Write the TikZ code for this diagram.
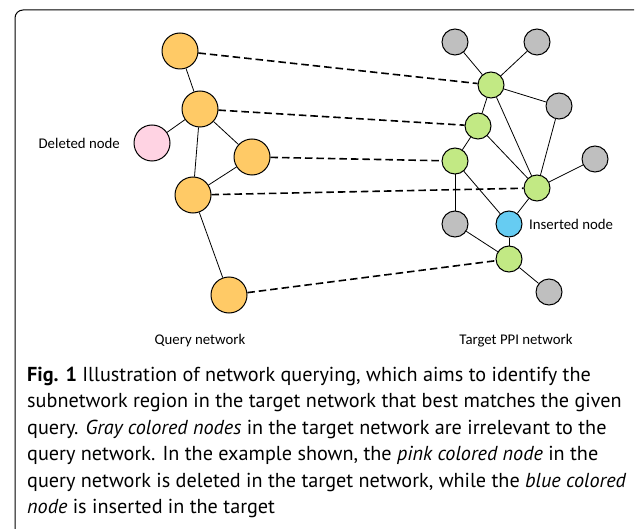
\documentclass[tikz,border=0pt]{standalone}
\usepackage{fontspec}
\setmainfont{PT Sans}
\newfontfamily\labelfont{Carlito}
\usetikzlibrary{calc}

\definecolor{qorange}{HTML}{FFCA66}
\definecolor{qpink}{HTML}{FFD3E3}
\definecolor{tgreen}{HTML}{C2E984}
\definecolor{tgray}{HTML}{BFBFBF}
\definecolor{tblue}{HTML}{66CCF2}

\begin{document}
\begin{tikzpicture}[x=1pt,y=-1pt,
  every node/.style={inner sep=0pt},
  qnode/.style={draw,circle,fill=qorange,minimum size=36pt,line width=1pt},
  tnode/.style={draw,circle,fill=tgreen,minimum size=26pt,line width=1pt},
  xnode/.style={draw,circle,fill=tgray,minimum size=26pt,line width=1pt},
  link/.style={line width=0.8pt},
  match/.style={line width=1.6pt,dash pattern=on 7.5pt off 4pt},
  lbl/.style={font=\labelfont\fontsize{14.8}{16}\selectfont}]
\useasboundingbox (0,0) rectangle (636,529);
\draw[line width=1pt,rounded corners=8pt] (15,529) -- (15,10) -- (634,10);

% query network
\node[qnode] (Q-1) at (180,51) {};
\node[qnode] (Q-2) at (200,109) {};
\node[qnode] (Q-3) at (252,157) {};
\node[qnode] (Q-4) at (193,195) {};
\node[qnode] (Q-5) at (229,295) {};
\node[qnode,fill=qpink] (del) at (152,143) {};

% target network
\node[tnode] (T-1) at (491,85) {};
\node[tnode] (T-2) at (478,126) {};
\node[tnode] (T-3) at (455,161) {};
\node[tnode] (T-4) at (537,188) {};
\node[tnode] (T-5) at (509,259) {};
\node[tnode,fill=tblue] (ins) at (509,224) {};
\node[xnode] (G-1) at (455,42) {};
\node[xnode] (G-2) at (537,42) {};
\node[xnode] (G-3) at (559,106) {};
\node[xnode] (G-4) at (595,159) {};
\node[xnode] (G-5) at (455,224) {};
\node[xnode] (G-6) at (549,292) {};

\foreach \a/\b in {Q-1/Q-2,Q-2/del,Q-2/Q-3,Q-2/Q-4,Q-3/Q-4,Q-4/Q-5}
  \draw[link] (\a) -- (\b);
\foreach \a/\b in {G-1/T-1,G-2/T-1,T-1/G-3,T-1/T-2,T-1/T-4,T-2/T-3,T-2/T-4,
  T-3/G-5,T-3/ins,G-3/T-4,T-4/G-4,T-4/ins,ins/T-5,G-5/T-5,T-5/G-6}
  \draw[link] (\a) -- (\b);
\foreach \x in {1,...,5}
  \draw[match] (Q-\x) -- (T-\x);

\node[lbl,anchor=east] (del-lbl) at (120,143) {Deleted node};
\node[lbl,anchor=west] (ins-lbl) at (529,224) {Inserted node};
\node[lbl] (q-lbl) at (200,341) {Query network};
\node[lbl] (t-lbl) at (516,341) {Target PPI network};

\node[anchor=north west,align=left,font=\fontsize{20.2}{26.4}\selectfont] (caption) at (27,367)
  {\textbf{Fig. 1} Illustration of network querying, which aims to identify the\\
   subnetwork region in the target network that best matches the given\\
   query. \textit{Gray colored nodes} in the target network are irrelevant to the\\
   query network. In the example shown, the \textit{pink colored node} in the\\
   query network is deleted in the target network, while the \textit{blue colored}\\
   \textit{node} is inserted in the target};
\end{tikzpicture}
\end{document}
